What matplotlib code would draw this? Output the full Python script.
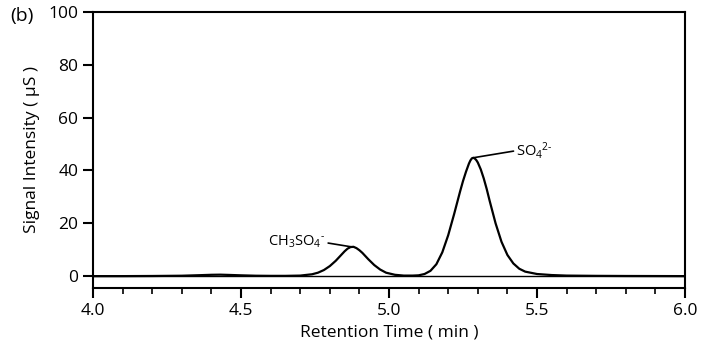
import numpy as np
import matplotlib.pyplot as plt

plt.rcParams['font.family'] = ['Open Sans', 'DejaVu Sans']
plt.rcParams['mathtext.fontset'] = 'custom'
plt.rcParams['mathtext.rm'] = 'Open Sans'
plt.rcParams['mathtext.it'] = 'Open Sans'

# digitized chromatogram (time in min, signal in uS)
time = [4.00, 4.10, 4.20, 4.30, 4.36, 4.40, 4.43, 4.46, 4.50, 4.55, 4.60, 4.65,
        4.70, 4.74, 4.76, 4.78, 4.80, 4.82, 4.84, 4.85, 4.86, 4.87, 4.88, 4.89,
        4.90, 4.91, 4.93, 4.95, 4.97, 4.99, 5.02, 5.05, 5.08, 5.10, 5.12, 5.14,
        5.16, 5.18, 5.20, 5.22, 5.24, 5.25, 5.26, 5.27, 5.275, 5.28, 5.285, 5.29,
        5.295, 5.30, 5.31, 5.32, 5.33, 5.34, 5.36, 5.38, 5.40, 5.42, 5.44, 5.46,
        5.50, 5.55, 5.60, 5.70, 5.80, 6.00]
signal = [0.0, 0.0, 0.05, 0.15, 0.35, 0.5, 0.55, 0.45, 0.3, 0.15, 0.1, 0.1,
          0.2, 0.7, 1.3, 2.3, 3.8, 5.8, 8.2, 9.4, 10.4, 11.0, 11.1, 10.6,
          9.8, 8.8, 6.4, 4.2, 2.5, 1.3, 0.5, 0.2, 0.2, 0.3, 0.8, 2.0,
          4.5, 9.0, 15.5, 23.5, 32.0, 36.0, 39.5, 42.6, 43.8, 44.6, 44.8, 44.5,
          43.9, 43.0, 40.4, 37.0, 33.0, 28.5, 20.0, 13.0, 8.0, 4.8, 2.8, 1.7,
          0.8, 0.4, 0.2, 0.1, 0.05, 0.0]

xticks = [4.0, 4.5, 5.0, 5.5, 6.0]
yticks = [0, 20, 40, 60, 80, 100]

fig = plt.figure(figsize=(7.02, 3.62), dpi=100)
ax = fig.add_axes([0.1325, 0.2044, 0.8433, 0.7625])

ax.plot(time, signal, color='black', lw=1.6)

ax.set_xlim(4.0, 6.0)
ax.set_ylim(-4.5, 100)
ax.set_xticks(xticks)
ax.set_xticklabels(['%.1f' % t for t in xticks])
ax.set_xticks(np.arange(4.0, 6.01, 0.1), minor=True)
ax.set_yticks(yticks)
ax.axhline(0, color='black', lw=1.0)

for s in ax.spines.values():
    s.set_linewidth(1.5)
ax.tick_params(axis='both', which='major', direction='out', length=7, width=1.5, labelsize=12.5)
ax.tick_params(axis='x', which='minor', direction='out', length=4, width=1.2)

ax.set_xlabel('Retention Time ( min )', fontsize=12.5, labelpad=4)
ax.set_ylabel('Signal Intensity ( μS )', fontsize=12.5, labelpad=6)

# peak labels
ax.annotate(r'CH$_3$SO$_4$$^{\text{-}}$', xy=(4.872, 11.1), xytext=(4.785, 13.0),
            ha='right', va='center', fontsize=10.5,
            arrowprops=dict(arrowstyle='-', lw=1.2, color='black',
                            shrinkA=0, shrinkB=0, relpos=(1.0, 0.45)))
ax.annotate(r'SO$_4$$^{2\text{-}}$', xy=(5.284, 44.8), xytext=(5.43, 47.5),
            ha='left', va='center', fontsize=10.5,
            arrowprops=dict(arrowstyle='-', lw=1.2, color='black',
                            shrinkA=0, shrinkB=0, relpos=(0.0, 0.5)))

fig.text(0.015, 0.955, '(b)', fontsize=14, va='center')

fig.savefig('out.png', dpi=100)
